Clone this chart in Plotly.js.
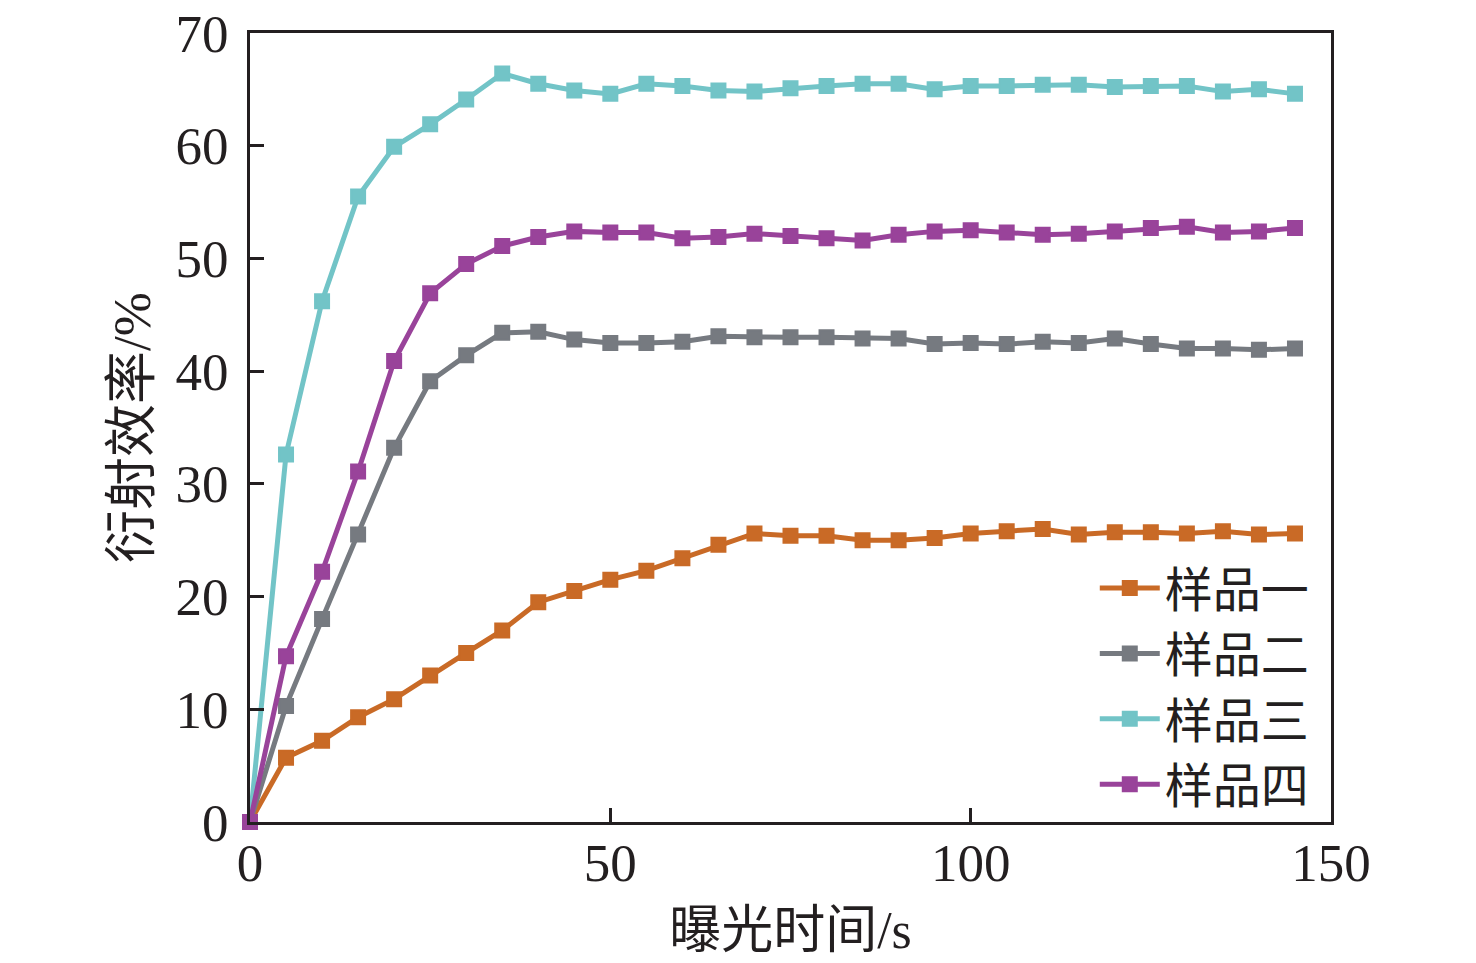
<!DOCTYPE html>
<html>
<head>
<meta charset="utf-8">
<script src="https://cdn.plot.ly/plotly-3.0.1.min.js"></script>
<style>
  html, body { margin: 0; padding: 0; background: #ffffff; }
  #plot { width: 1476px; height: 963px; }
</style>
</head>
<body>
<div id="plot"></div>
<script>
// exposure time (s), every 5 s
const times = [0, 5, 10, 15, 20, 25, 30, 35, 40, 45, 50, 55, 60, 65, 70,
  75, 80, 85, 90, 95, 100, 105, 110, 115, 120, 125, 130, 135, 140, 145];

// diffraction efficiency (%)
const sample1 = [0, 5.7, 7.2, 9.3, 10.9, 13.0, 15.0, 17.0, 19.5, 20.5, 21.5, 22.3, 23.4, 24.6, 25.6,
  25.4, 25.4, 25.0, 25.0, 25.2, 25.6, 25.8, 26.0, 25.5, 25.7, 25.7, 25.6, 25.8, 25.5, 25.6];
const sample2 = [0, 10.3, 18.0, 25.5, 33.2, 39.1, 41.4, 43.4, 43.5, 42.8, 42.5, 42.5, 42.6, 43.1, 43.0,
  43.0, 43.0, 42.9, 42.9, 42.4, 42.5, 42.4, 42.6, 42.5, 42.9, 42.4, 42.0, 42.0, 41.9, 42.0];
const sample3 = [0, 32.6, 46.2, 55.5, 59.9, 61.9, 64.1, 66.4, 65.5, 64.9, 64.6, 65.5, 65.3, 64.9, 64.8,
  65.1, 65.3, 65.5, 65.5, 65.0, 65.3, 65.3, 65.4, 65.4, 65.2, 65.3, 65.3, 64.8, 65.0, 64.6];
const sample4 = [0, 14.7, 22.2, 31.1, 40.9, 46.9, 49.5, 51.1, 51.9, 52.4, 52.3, 52.3, 51.8, 51.9, 52.2,
  52.0, 51.8, 51.6, 52.1, 52.4, 52.5, 52.3, 52.1, 52.2, 52.4, 52.7, 52.8, 52.3, 52.4, 52.7];

const names = ["样品一", "样品二", "样品三", "样品四"];
const colors = ["#c96a26", "#767a80", "#72c4c7", "#99439a"];
const series = [sample1, sample2, sample3, sample4];

const FONT = "'Liberation Serif', 'Times New Roman', 'Noto Sans CJK SC', serif";
const INK = "#231f20";

const traces = series.map((ys, i) => ({
  type: "scatter",
  mode: "lines+markers",
  name: names[i],
  x: times,
  y: ys,
  line: { color: colors[i], width: 5 },
  marker: { color: colors[i], size: 14, symbol: "square", line: { color: colors[i], width: 2 } },
  cliponaxis: false,
}));

const axisBase = {
  showline: true,
  linecolor: INK,
  linewidth: 3,
  mirror: true,
  ticks: "inside",
  ticklen: 14,
  tickwidth: 3,
  tickcolor: INK,
  showgrid: false,
  zeroline: false,
  tickfont: { family: FONT, size: 53, color: INK },
};

const layout = {
  width: 1476,
  height: 963,
  paper_bgcolor: "#ffffff",
  plot_bgcolor: "#ffffff",
  margin: { l: 250, r: 145, t: 33, b: 141 },
  showlegend: true,
  legend: {
    x: 0.985,
    y: 0.172,
    xanchor: "right",
    yanchor: "middle",
    bgcolor: "rgba(0,0,0,0)",
    font: { family: FONT, size: 48, color: INK },
    itemwidth: 60,
    tracegroupgap: 0,
  },
  xaxis: {
    ...axisBase,
    range: [0, 150],
    tickvals: [0, 50, 100, 150],
    ticklabelstandoff: -8,
    title: { text: "曝光时间/s", font: { family: FONT, size: 52, color: INK }, standoff: 22 },
  },
  yaxis: {
    ...axisBase,
    range: [0, 70],
    tickvals: [0, 10, 20, 30, 40, 50, 60, 70],
    ticklabelstandoff: 8,
    title: { text: "衍射效率/%", font: { family: FONT, size: 53, color: INK }, standoff: 8 },
  },
};

Plotly.newPlot("plot", traces, layout, { displayModeBar: false, staticPlot: true });
</script>
</body>
</html>
